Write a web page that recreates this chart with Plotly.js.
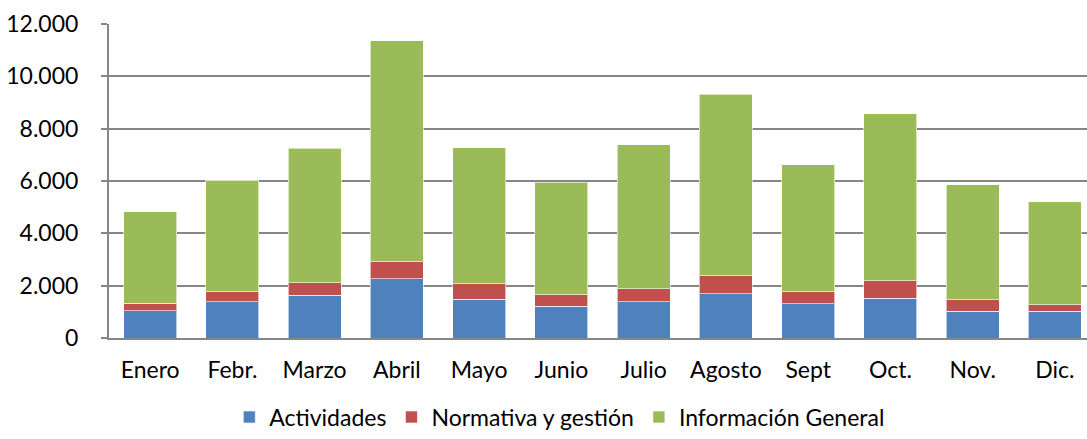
<!DOCTYPE html>
<html>
<head>
<meta charset="utf-8">
<script src="https://cdn.plot.ly/plotly-3.0.1.min.js"></script>
<style>html,body{margin:0;padding:0;background:#fff;}#chart{width:1087px;height:439px;}</style>
</head>
<body>
<div id="chart"></div>
<script>
const months = ["Enero","Febr.","Marzo","Abril","Mayo","Junio","Julio","Agosto","Sept","Oct.","Nov.","Dic."];
const actividades = [1050,1380,1630,2260,1490,1210,1380,1700,1300,1510,1020,1020];
const normativa = [280,380,480,660,580,450,510,670,460,670,450,250];
const informacion = [3500,4270,5140,8440,5210,4300,5500,6940,4870,6390,4390,3940];
const yTicks = [0,2000,4000,6000,8000,10000,12000];
const yTickLabels = ["0","2.000","4.000","6.000","8.000","10.000","12.000"];

const font = "Lato, 'Open Sans', sans-serif";
const line = {color:"rgba(255,255,255,0.6)", width:1};
const traces = [
  {type:"bar", name:"Actividades", x:months, y:actividades, marker:{color:"#4F81BD", line:line}},
  {type:"bar", name:"Normativa y gestión", x:months, y:normativa, marker:{color:"#C0504D", line:line}},
  {type:"bar", name:"Información General", x:months, y:informacion, marker:{color:"#9BBB59", line:line}}
];
const layout = {
  width:1087, height:439,
  barmode:"stack", bargap:0.355,
  margin:{l:109, r:0, t:24, b:101, autoexpand:false},
  paper_bgcolor:"#fff", plot_bgcolor:"#fff",
  font:{family:font, size:23, color:"#000"},
  showlegend:true,
  legend:{orientation:"h", x:0.515, xanchor:"center", xref:"container", y:0.05, yref:"container", yanchor:"middle",
          font:{size:23}, traceorder:"normal", itemwidth:30, tracegroupgap:0},
  xaxis:{type:"category", range:[-0.5, 11.39], showline:true, linecolor:"#868686", linewidth:2, automargin:false,
         ticks:"", ticklabelstandoff:10, tickfont:{size:23}, showgrid:false, zeroline:false},
  yaxis:{range:[0,12000], tickvals:yTicks, ticktext:yTickLabels, showline:true, linecolor:"#868686", linewidth:2, automargin:false,
         ticks:"outside", ticklen:6, tickcolor:"#868686", tickwidth:2, ticklabelstandoff:18,
         showgrid:true, gridcolor:"#868686", gridwidth:2, zeroline:false, tickfont:{size:23}}
};
Plotly.newPlot("chart", traces, layout, {displayModeBar:false, staticPlot:true});
</script>
</body>
</html>
